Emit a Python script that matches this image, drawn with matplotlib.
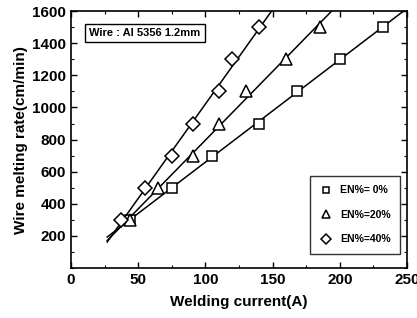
import numpy as np
import matplotlib
matplotlib.use("Agg")
from matplotlib import pyplot as plt
from matplotlib.ticker import MultipleLocator

plt.rcParams['font.family'] = ['Liberation Sans', 'DejaVu Sans']
plt.rcParams['font.weight'] = 'bold'

# measured points (welding current A, melting rate cm/min)
rate = [300, 500, 700, 900, 1100, 1300, 1500]
cur_en0 = [44, 75, 105, 140, 168, 200, 232]
cur_en20 = [44, 65, 91, 110, 130, 160, 185]
cur_en40 = [37, 55, 75, 91, 110, 120, 140]
labels = ['EN%= 0%', 'EN%=20%', 'EN%=40%']
markers = ['s', '^', 'D']
msizes = [7, 8, 7]

fig = plt.figure(figsize=(4.17, 3.18), dpi=100)
ax = fig.add_axes([0.170, 0.157, 0.806, 0.808])

xfit = np.linspace(27, 250, 200)
for cur, lab, m, ms in zip([cur_en0, cur_en20, cur_en40], labels, markers, msizes):
    k, b = np.polyfit(cur, rate, 1)
    ax.plot(xfit, k * xfit + b, color='k', lw=1.1)
    ax.plot(cur, rate, ls='none', marker=m, ms=ms, mfc='white', mec='k',
            mew=1.1, label=lab)

ax.set_xlim(0, 250)
ax.set_ylim(0, 1600)
ax.xaxis.set_minor_locator(MultipleLocator(25))
ax.yaxis.set_minor_locator(MultipleLocator(100))
ax.set_xticks([0, 50, 100, 150, 200, 250])
ax.set_yticks([200, 400, 600, 800, 1000, 1200, 1400, 1600])
ax.tick_params(which='both', direction='in', top=True, right=True, labelsize=11)
ax.tick_params(which='major', length=4, width=1)
ax.tick_params(which='minor', length=2, width=0.8)
for s in ax.spines.values():
    s.set_linewidth(1.2)

ax.set_xlabel('Welding current(A)', fontsize=11, fontweight='bold', labelpad=6)
ax.set_ylabel('Wire melting rate(cm/min)', fontsize=11, fontweight='bold', labelpad=3)

ax.text(0.055, 0.916, 'Wire : Al 5356 1.2mm', transform=ax.transAxes, fontsize=8,
        fontweight='bold', va='center', ha='left',
        bbox=dict(boxstyle='square,pad=0.35', fc='white', ec='k', lw=1))

leg = ax.legend(loc='lower right', fontsize=7.5, frameon=True, fancybox=False,
                edgecolor='k', markerscale=0.7, handlelength=1.2, labelspacing=1.4,
                borderpad=0.9, bbox_to_anchor=(0.995, 0.035))
leg.get_frame().set_linewidth(1)

fig.savefig('out.png', dpi=100)
